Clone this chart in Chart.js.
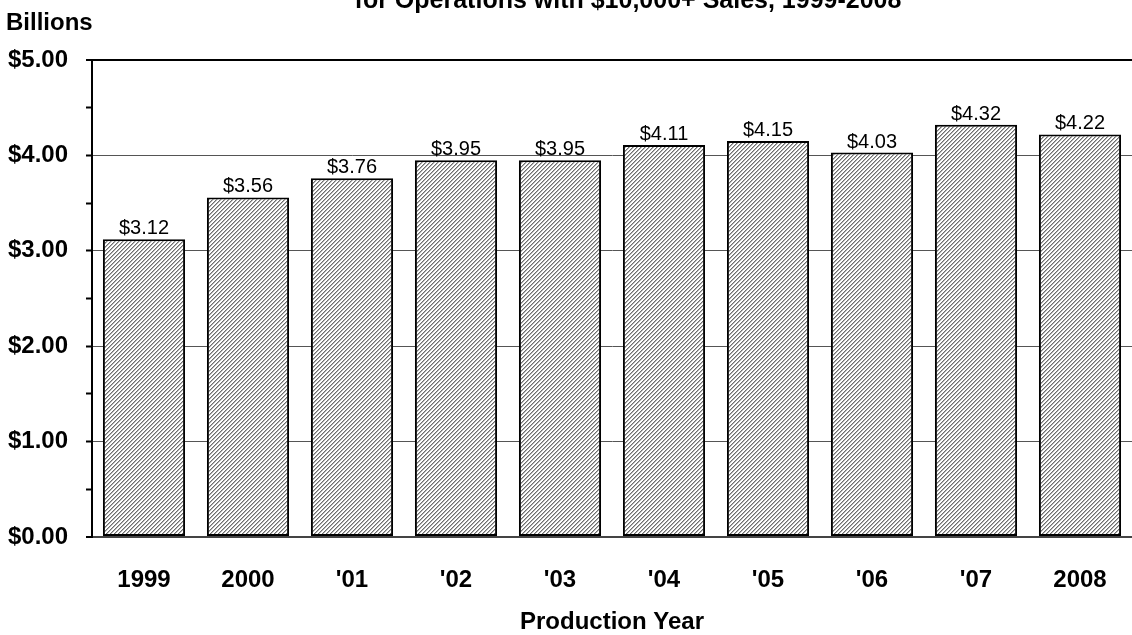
<!DOCTYPE html>
<html>
<head>
<meta charset="utf-8">
<script src="https://cdn.jsdelivr.net/npm/chart.js@4.4.1/dist/chart.umd.min.js"></script>
<style>
  html, body { margin: 0; padding: 0; background: #fff; }
  #wrap { width: 1132px; height: 635px; position: relative; }
</style>
</head>
<body>
<div id="wrap"><canvas id="myChart"></canvas></div>
<script>
const years = ['1999', '2000', "'01", "'02", "'03", "'04", "'05", "'06", "'07", '2008'];
const income = [3.12, 3.56, 3.76, 3.95, 3.95, 4.11, 4.15, 4.03, 4.32, 4.22];
const yTicks = [0, 1, 2, 3, 4, 5];

const titleText = 'for Operations with $10,000+ Sales, 1999-2008';
const yTitle = 'Billions';
const xTitle = 'Production Year';

const FONT = '"Liberation Sans", Arial, sans-serif';

// hatch fill, "/" lines every 4px
function hatch() {
  const c = document.createElement('canvas');
  c.width = 4; c.height = 4;
  const g = c.getContext('2d');
  g.fillStyle = '#fff';
  g.fillRect(0, 0, 4, 4);
  for (let i = 0; i < 4; i++) {
    g.fillStyle = '#6e6e6e';
    g.fillRect(i, 3 - i, 1, 1);
    g.fillStyle = '#b4b4b4';
    g.fillRect((i + 1) % 4, 3 - i, 1, 1);
  }
  return g.createPattern(c, 'repeat');
}

const extraText = {
  id: 'extraText',
  afterDraw(chart) {
    const ctx = chart.ctx;
    ctx.save();
    ctx.fillStyle = '#000';
    ctx.textBaseline = 'alphabetic';
    ctx.font = 'bold 25px ' + FONT;
    ctx.textAlign = 'center';
    ctx.fillText(titleText, 628, 8);
    ctx.font = 'bold 24px ' + FONT;
    ctx.textAlign = 'left';
    ctx.fillText(yTitle, 6, 30);

    // value labels
    ctx.font = '20px ' + FONT;
    ctx.textAlign = 'center';
    const meta = chart.getDatasetMeta(0);
    meta.data.forEach((bar, i) => {
      ctx.fillText('$' + income[i].toFixed(2), bar.x, bar.y - 5);
    });
    ctx.restore();
  }
};

const GraphIncome = document.getElementById('myChart');
const Income = new Chart(GraphIncome, {
  type: 'bar',
  data: {
    labels: years,
    datasets: [{
      data: income,
      backgroundColor: hatch(),
      borderColor: '#000',
      borderWidth: 2,
      borderSkipped: false,
      categoryPercentage: 1,
      barPercentage: 0.79
    }]
  },
  options: {
    responsive: true,
    maintainAspectRatio: false,
    animation: false,
    layout: { padding: { top: 60, left: 0, right: 0, bottom: 0 } },
    plugins: {
      legend: { display: false },
      tooltip: { enabled: false }
    },
    scales: {
      x: {
        grid: { display: false, drawTicks: false },
        border: { display: true, color: '#444', width: 2 },
        ticks: {
          color: '#000',
          padding: 29,
          font: { family: FONT, size: 24, weight: 'bold' }
        },
        title: {
          display: true,
          text: xTitle,
          color: '#000',
          padding: { top: 0, bottom: 1 },
          font: { family: FONT, size: 24, weight: 'bold', lineHeight: 1 }
        },
        afterFit(scale) {
          scale.height = 98;
          scale.paddingLeft = 0;
          scale.paddingRight = 0;
        }
      },
      y: {
        min: 0,
        max: 5,
        ticks: {
          stepSize: 0.5,
          color: '#000',
          padding: 18,
          autoSkip: false,
          font: { family: FONT, size: 24, weight: 'bold' },
          callback(v) { return yTicks.includes(v) ? '$' + v.toFixed(2) : ''; }
        },
        grid: {
          tickLength: 6,
          tickColor: '#000',
          tickWidth: 2,
          color(ctx) {
            const v = ctx.tick ? ctx.tick.value : 0;
            if (v === 5) return '#000';
            if (v === 0) return '#444';
            return yTicks.includes(v) ? '#555' : 'rgba(0,0,0,0)';
          },
          lineWidth(ctx) {
            const v = ctx.tick ? ctx.tick.value : 0;
            return (v === 5 || v === 0) ? 2 : 1;
          }
        },
        border: { display: true, color: '#000', width: 2 },
        afterFit(scale) { scale.width = 92; }
      }
    }
  },
  plugins: [extraText]
});
</script>
</body>
</html>
